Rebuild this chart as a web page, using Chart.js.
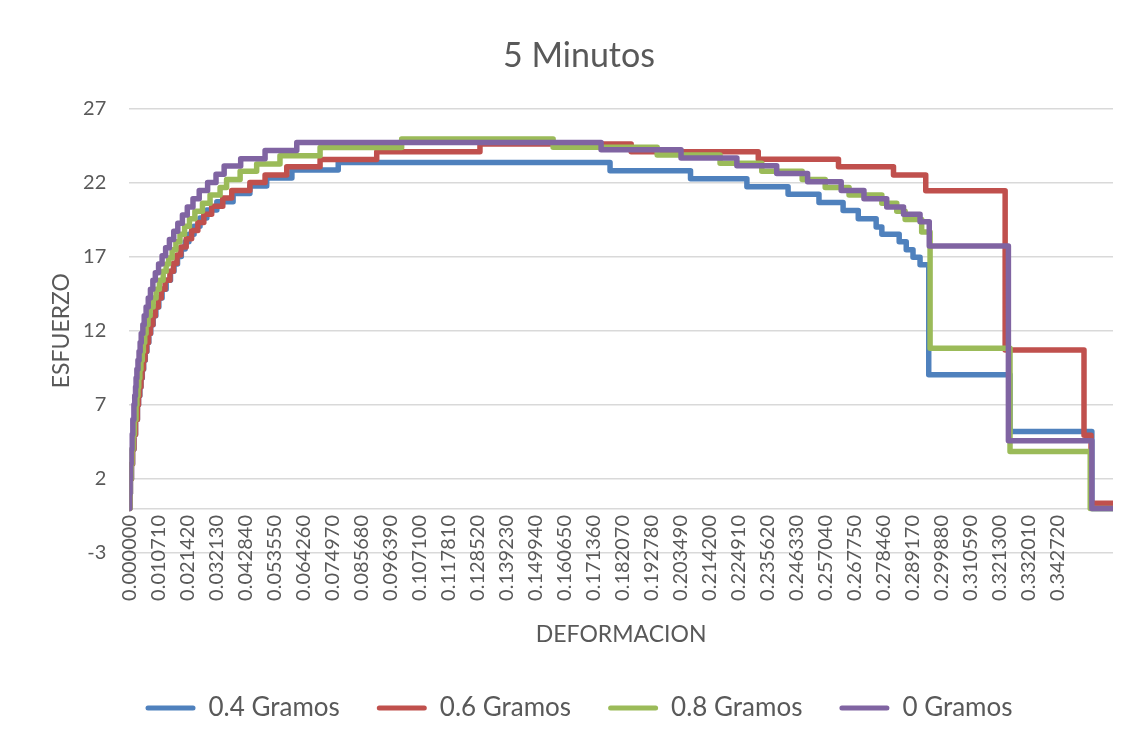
<!DOCTYPE html>
<html>
<head>
<meta charset="utf-8">
<title>5 Minutos</title>
<script src="https://cdn.jsdelivr.net/npm/chart.js@4.4.1/dist/chart.umd.min.js"></script>
<style>
  html, body { margin: 0; padding: 0; background: #ffffff; }
  #wrap { width: 1128px; height: 744px; position: relative; }
</style>
</head>
<body>
<div id="wrap"><canvas id="chart"></canvas></div>
<script>
// Series names and colours (legend order)
const SERIES_NAMES  = ['0.4 Gramos', '0.6 Gramos', '0.8 Gramos', '0 Gramos'];
const SERIES_COLORS = ['#4F81BD', '#C0504D', '#9BBB59', '#8064A2'];

// Deformation tick labels shown along the x axis
const X_TICK_LABELS = [
  '0.000000', '0.010710', '0.021420', '0.032130', '0.042840', '0.053550',
  '0.064260', '0.074970', '0.085680', '0.096390', '0.107100', '0.117810',
  '0.128520', '0.139230', '0.149940', '0.160650', '0.171360', '0.182070',
  '0.192780', '0.203490', '0.214200', '0.224910', '0.235620', '0.246330',
  '0.257040', '0.267750', '0.278460', '0.289170', '0.299880', '0.310590',
  '0.321300', '0.332010', '0.342720'
];
const X_MAX = 0.3630;

// Stress levels (ESFUERZO) and the deformation at which each level starts
const BLUE_X = [0, 0.0002, 0.0004, 0.0008, 0.0012, 0.0017, 0.0023, 0.0030, 0.0034, 0.0039,
  0.0043, 0.0048, 0.0053, 0.0059, 0.0065, 0.0072, 0.0079, 0.0088, 0.0098, 0.0109,
  0.0121, 0.0136, 0.0152, 0.0165, 0.0178, 0.0192, 0.0206, 0.0220, 0.0239, 0.0261,
  0.0286, 0.0323, 0.0383, 0.0445, 0.0507, 0.0600, 0.0771, 0.1774, 0.2071, 0.2279,
  0.2431, 0.2545, 0.2634, 0.2690, 0.2756, 0.2777, 0.2841, 0.2867, 0.2892, 0.2918,
  0.2950, 0.3250, 0.3552, 0.3630];
const BLUE_Y = [0, 1, 2, 3, 4, 5, 6, 7, 7.6, 8.2,
  8.8, 9.4, 10.0, 10.6, 11.2, 11.8, 12.4, 13.0, 13.6, 14.2,
  14.8, 15.4, 16.0, 16.5, 17.0, 17.5, 18.0, 18.5, 19.05, 19.6,
  20.14, 20.7, 21.25, 21.75, 22.3, 22.84, 23.35, 22.79, 22.25, 21.71,
  21.2, 20.65, 20.1, 19.55, 19.0, 18.5, 18.0, 17.45, 16.95, 16.45,
  9.02, 5.19, 0, 0];

const RED_X = [0, 0.0002, 0.0004, 0.0008, 0.0012, 0.0017, 0.0023, 0.0030, 0.0034, 0.0038,
  0.0043, 0.0047, 0.0052, 0.0058, 0.0064, 0.0071, 0.0078, 0.0087, 0.0096, 0.0107,
  0.0118, 0.0132, 0.0150, 0.0163, 0.0176, 0.0190, 0.0210, 0.0230, 0.0253, 0.0275,
  0.0304, 0.0345, 0.0378, 0.0445, 0.0501, 0.0581, 0.0704, 0.0913, 0.1294, 0.1852,
  0.2321, 0.2617, 0.2820, 0.2939, 0.3232, 0.3523, 0.3549, 0.3630];
const RED_Y = [0, 1, 2, 3, 4, 5, 6, 7, 7.6, 8.2,
  8.8, 9.4, 10.0, 10.6, 11.2, 11.8, 12.4, 13.0, 13.6, 14.2,
  14.8, 15.4, 16.0, 16.55, 17.1, 17.65, 18.2, 18.75, 19.3, 19.85,
  20.4, 20.95, 21.45, 22.0, 22.5, 23.05, 23.55, 24.07, 24.6, 24.07,
  23.56, 23.06, 22.5, 21.44, 10.7, 4.95, 0.35, 0.35];

const GREEN_X = [0, 0.0002, 0.0004, 0.0007, 0.0010, 0.0014, 0.0019, 0.0025, 0.0028, 0.0032,
  0.0035, 0.0039, 0.0043, 0.0048, 0.0052, 0.0057, 0.0062, 0.0069, 0.0077, 0.0088,
  0.0099, 0.0111, 0.0125, 0.0136, 0.0145, 0.0158, 0.0172, 0.0187, 0.0204, 0.0222,
  0.0242, 0.0270, 0.0298, 0.0335, 0.0359, 0.0409, 0.0470, 0.0556, 0.0704, 0.1005,
  0.1564, 0.1948, 0.2180, 0.2334, 0.2483, 0.2568, 0.2656, 0.2777, 0.2832, 0.2863,
  0.2924, 0.2955, 0.3250, 0.3546, 0.3630];
const GREEN_Y = [0, 1, 2, 3, 4, 5, 6, 7, 7.6, 8.2,
  8.8, 9.4, 10.0, 10.6, 11.2, 11.8, 12.4, 13.0, 13.6, 14.2,
  14.8, 15.4, 16.0, 16.5, 16.9, 17.45, 18.0, 18.5, 19.05, 19.55,
  20.05, 20.6, 21.15, 21.65, 22.2, 22.75, 23.25, 23.8, 24.35, 24.93,
  24.38, 23.85, 23.3, 22.75, 22.2, 21.65, 21.15, 20.6, 20.05, 19.5,
  18.65, 10.82, 3.84, 0, 0];

const PURPLE_X = [0, 0.0001, 0.0003, 0.0005, 0.0007, 0.0010, 0.0013, 0.0017, 0.0020, 0.0023,
  0.0025, 0.0028, 0.0032, 0.0036, 0.0040, 0.0044, 0.0050, 0.0055, 0.0062, 0.0070,
  0.0078, 0.0087, 0.0096, 0.0108, 0.0121, 0.0134, 0.0148, 0.0164, 0.0179, 0.0196,
  0.0214, 0.0235, 0.0258, 0.0289, 0.0320, 0.0350, 0.0411, 0.0501, 0.0618, 0.1741,
  0.2036, 0.2242, 0.2389, 0.2503, 0.2627, 0.2711, 0.2795, 0.2857, 0.2918, 0.2952,
  0.3244, 0.3552, 0.3630];
const PURPLE_Y = [0, 1, 2, 3, 4, 5, 6, 7, 7.6, 8.2,
  8.8, 9.4, 10.0, 10.6, 11.2, 11.8, 12.4, 13.0, 13.6, 14.2,
  14.8, 15.4, 15.9, 16.5, 17.05, 17.6, 18.15, 18.7, 19.25, 19.8,
  20.35, 20.9, 21.45, 22.0, 22.55, 23.1, 23.6, 24.15, 24.7, 24.2,
  23.65, 23.12, 22.6, 22.05, 21.45, 20.9, 20.35, 19.85, 19.35, 17.71,
  4.57, 0, 0];

const SERIES_X = [BLUE_X, RED_X, GREEN_X, PURPLE_X];
const SERIES_Y = [BLUE_Y, RED_Y, GREEN_Y, PURPLE_Y];

const TEXT_COLOR = '#595959';
const GRID_COLOR = '#d9d9d9';
const X_TICK_FONT_SIZE = 20;
Chart.defaults.font.family = 'Lato, "Open Sans", sans-serif';
Chart.defaults.color = TEXT_COLOR;

const datasets = SERIES_NAMES.map((name, i) => ({
  label: name,
  data: SERIES_X[i].map((x, k) => ({ x: x, y: SERIES_Y[i][k] })),
  borderColor: SERIES_COLORS[i],
  backgroundColor: SERIES_COLORS[i],
  borderWidth: 5.5,
  borderJoinStyle: 'round',
  borderCapStyle: 'round',
  stepped: 'before',
  pointRadius: 0,
  pointHoverRadius: 0,
  fill: false,
  // later series are painted over earlier ones
  order: SERIES_NAMES.length - i
}));

new Chart(document.getElementById('chart'), {
  type: 'line',
  data: { datasets },
  options: {
    responsive: true,
    maintainAspectRatio: false,
    animation: false,
    layout: { padding: { left: 45, right: 15, top: 0, bottom: 13 } },
    plugins: {
      title: {
        display: true,
        text: '5 Minutos',
        color: TEXT_COLOR,
        font: { size: 34, weight: 'normal' },
        padding: { top: 36, bottom: 31.5 }
      },
      legend: {
        display: true,
        position: 'bottom',
        labels: {
          boxWidth: 50,
          boxHeight: 5,
          padding: 37,
          color: TEXT_COLOR,
          font: { size: 26 },
          useBorderRadius: true,
          generateLabels: () => SERIES_NAMES.map((name, i) => ({
            text: name,
            fillStyle: SERIES_COLORS[i],
            strokeStyle: SERIES_COLORS[i],
            lineWidth: 0,
            borderRadius: 2.5,
            fontColor: TEXT_COLOR,
            hidden: false,
            datasetIndex: i
          }))
        }
      },
      tooltip: { enabled: false }
    },
    scales: {
      x: {
        type: 'linear',
        min: 0,
        max: X_MAX,
        grid: { display: false, drawTicks: false },
        border: { display: false },
        afterBuildTicks: (scale) => {
          scale.ticks = X_TICK_LABELS.map(t => ({ value: parseFloat(t) }));
        },
        afterFit: (scale) => { scale.height = 105; },
        ticks: {
          autoSkip: false,
          minRotation: 90,
          maxRotation: 90,
          // labels sit just under the zero line, overlapping the lowest band
          mirror: true,
          labelOffset: X_TICK_FONT_SIZE * 1.2,
          padding: 38,
          color: TEXT_COLOR,
          font: { size: X_TICK_FONT_SIZE },
          callback: (value, index) => X_TICK_LABELS[index]
        },
        title: {
          display: true,
          text: 'DEFORMACION',
          color: TEXT_COLOR,
          font: { size: 23 },
          padding: { top: 0, bottom: 9.2 }
        }
      },
      y: {
        type: 'linear',
        min: -3,
        max: 27,
        grid: {
          color: GRID_COLOR,
          lineWidth: 1.4,
          drawTicks: false
        },
        border: { display: false },
        afterBuildTicks: (scale) => {
          // horizontal axis line at zero stress
          scale.ticks.push({ value: 0 });
          scale.ticks.sort((a, b) => a.value - b.value);
        },
        afterFit: (scale) => { scale.width = 84.3; },
        ticks: {
          stepSize: 5,
          padding: 23,
          color: TEXT_COLOR,
          font: { size: 20 },
          callback: (value) => (value === 0 ? '' : String(value))
        },
        title: {
          display: true,
          text: 'ESFUERZO',
          color: TEXT_COLOR,
          font: { size: 23 },
          padding: { top: 3.2, bottom: 0 }
        }
      }
    }
  }
});
</script>
</body>
</html>
